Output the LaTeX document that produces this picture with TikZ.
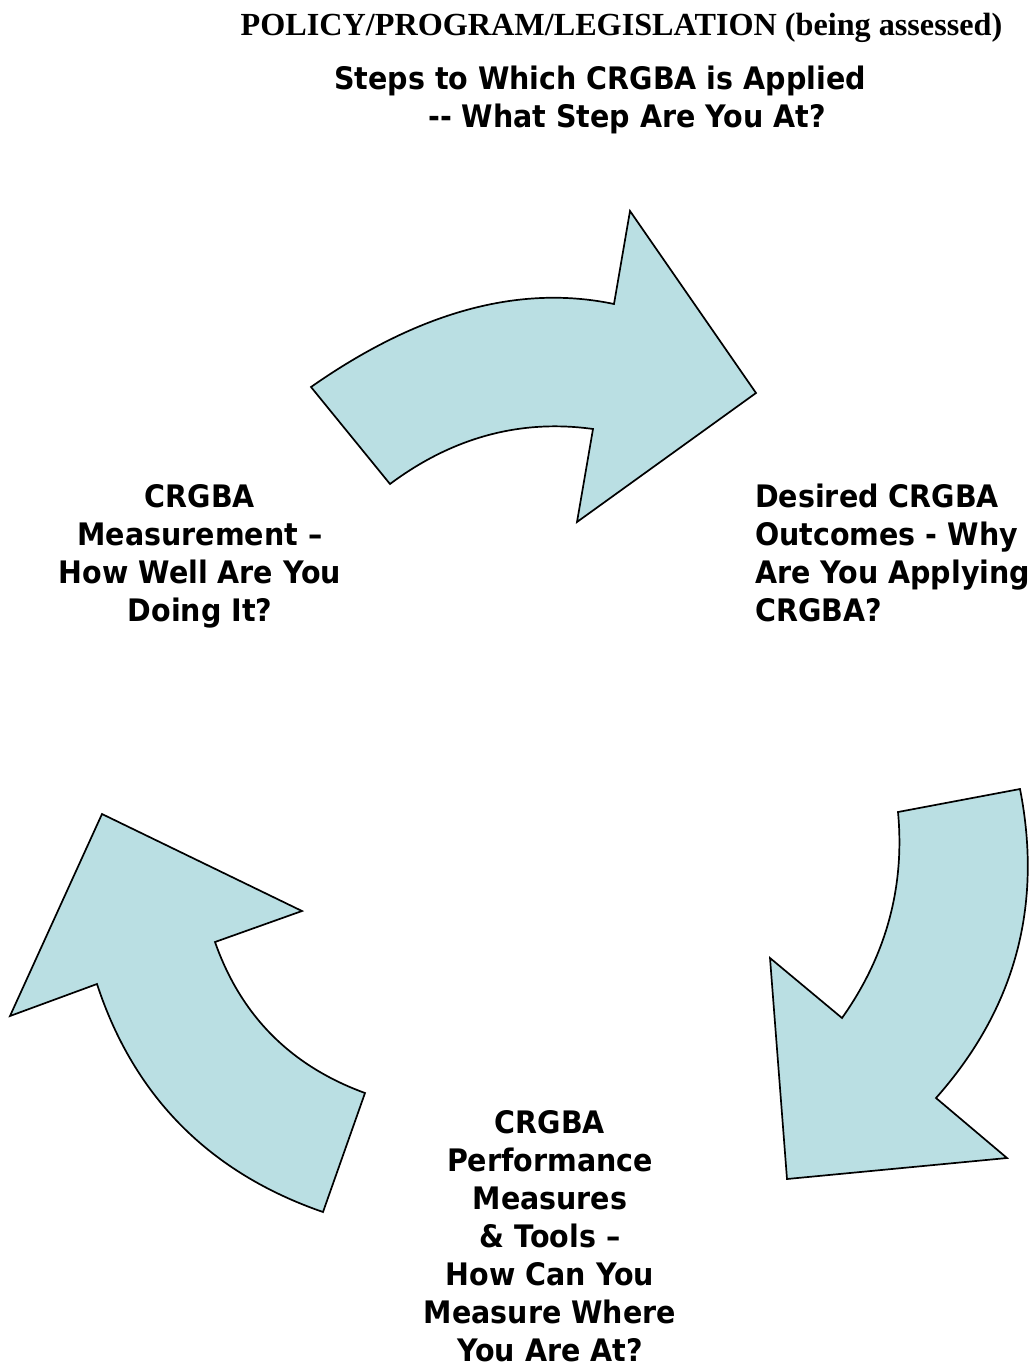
\documentclass[tikz,border=0pt]{standalone}
\usepackage{fontspec}
\newfontfamily\stepfont[FakeStretch=0.92]{DejaVu Sans}
\newfontfamily\headfont{Liberation Serif}
\definecolor{arrowblue}{RGB}{186,223,227}
\tikzset{
  every picture/.style={line join=round, line cap=round},
  cyclearrow/.style={draw=black, line width=1.7pt, fill=arrowblue, line join=miter},
  steptext/.style={font=\stepfont\bfseries\fontsize{31}{38}\selectfont, inner sep=0pt, anchor=north},
}

\begin{document}
\begin{tikzpicture}[x=1pt,y=-1pt]
\useasboundingbox (0,0) rectangle (1034,1368);
\node[font=\headfont\bfseries\fontsize{32.2}{32}\selectfont, inner sep=0pt, anchor=base] (policy) at (621.5,35) {POLICY/PROGRAM/LEGISLATION (being assessed)};
\node[steptext, align=center] (steps) at (600,66) {Steps to Which CRGBA is Applied\\\hspace*{54pt}-{}- What Step Are You At?};
% the three curved arrows
\draw[cyclearrow](311,387)..controls(418,312)and(519,284)..(614,304)--(630,211)--(756,393)--(577,522)--(593,429)
  ..controls(521,419)and(453,437)..(390,484)--cycle;
\draw[cyclearrow](1020,789)--(898,812)..controls(905,887)and(886,956)..(842,1018)--(770,958)--(787,1179)--(1007,1158)
  --(936,1098)..controls(1015,1009)and(1043,906)..cycle;
\draw[cyclearrow](323,1212)--(365,1093)..controls(291,1066)and(241,1016)..(215,942)--(302,911)--(102,814)--(10,1016)
  --(97,984)..controls(134,1097)and(210,1173)..cycle;
\node[steptext, align=center] (measure) at (200,484) {CRGBA\\Measurement –\\How Well Are You\\Doing It?};
\node[steptext, align=left, anchor=north west] (outcomes) at (755,484) {Desired CRGBA\\Outcomes - Why\\Are You Applying\\CRGBA?};
\node[steptext, align=center] (tools) at (550,1110) {CRGBA\\Performance\\Measures\\\& Tools –\\How Can You\\Measure Where\\You Are At?};
\end{tikzpicture}
\end{document}
